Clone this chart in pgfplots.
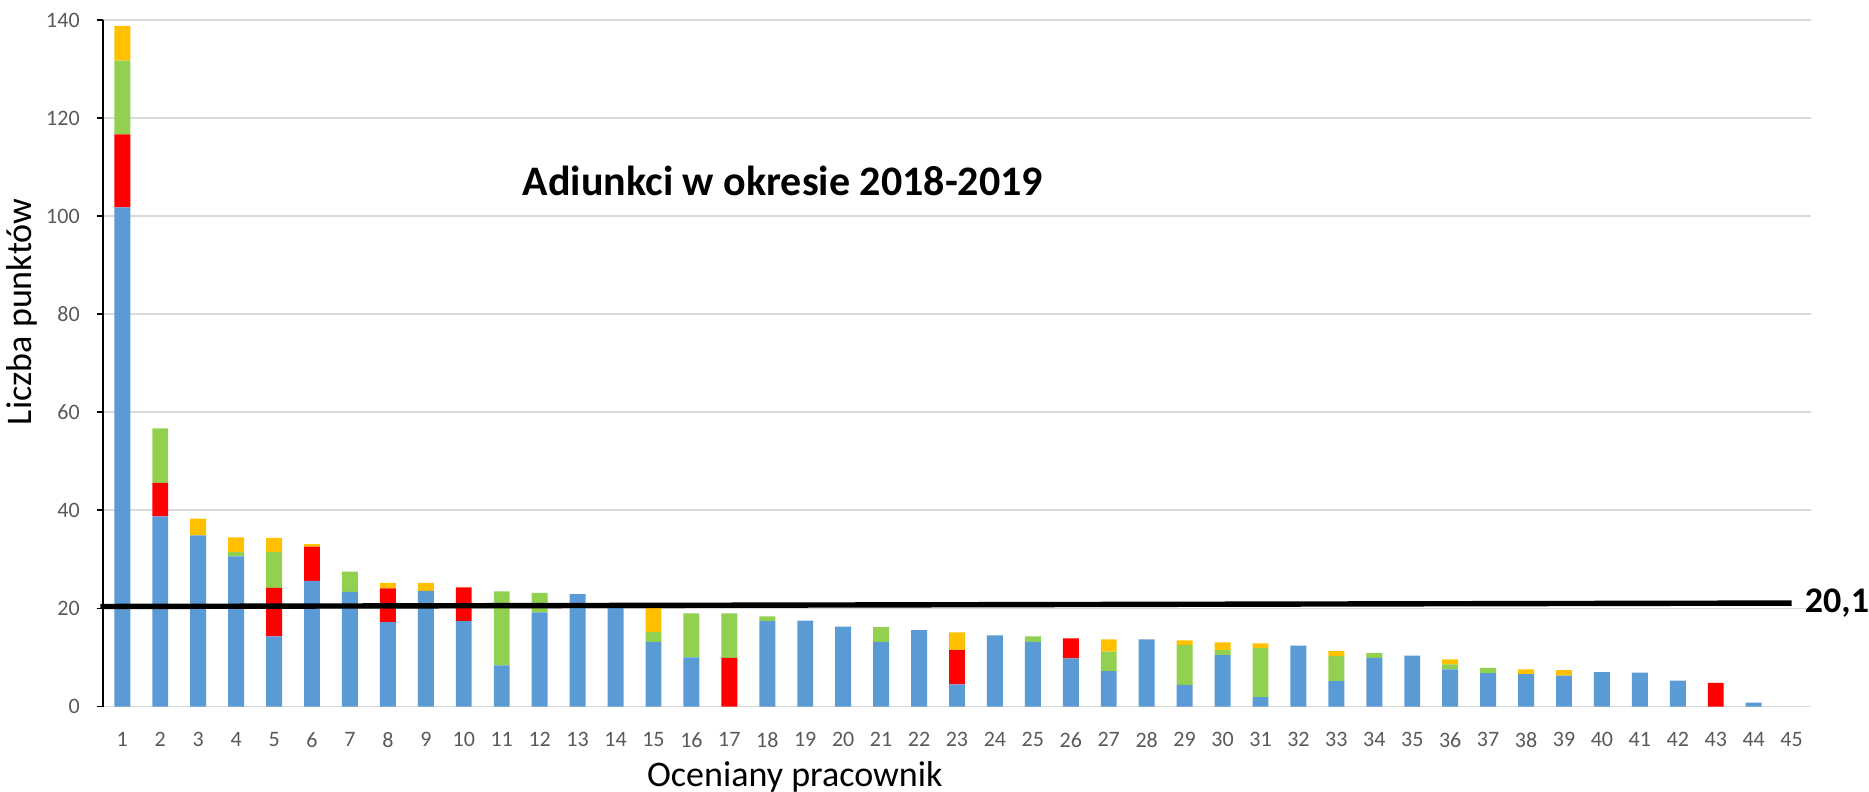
\documentclass[border=0pt]{standalone}
\usepackage{fontspec}
\setmainfont{Carlito}
\usepackage{pgfplots}
\usepackage{pgfplotstable}
\pgfplotsset{compat=1.18}
\definecolor{cblue}{HTML}{5B9BD5}
\definecolor{cred}{HTML}{FF0000}
\definecolor{cgreen}{HTML}{92D050}
\definecolor{cyellow}{HTML}{FFC000}
\definecolor{gridc}{HTML}{D9D9D9}
\definecolor{ticktxt}{HTML}{595959}
\pgfplotstableread{
x blue red green yellow
1 101.8 14.9 15.0 7.1
2 38.8 6.8 11.1 0
3 34.9 0 0 3.4
4 30.6 0 0.9 3.0
5 14.3 9.9 7.3 2.9
6 25.6 7.0 0 0.5
7 23.4 0 4.1 0
8 17.2 6.9 0 1.1
9 23.6 0 0 1.6
10 17.4 6.9 0 0
11 8.4 0 15.1 0
12 19.2 0 4.0 0
13 22.9 0 0 0
14 20.3 0 0 0
15 13.2 0 2.0 5.1
16 10.0 0 9.0 0
17 0 9.9 9.1 0
18 17.4 0 1.0 0
19 17.5 0 0 0
20 16.3 0 0 0
21 13.2 0 3.0 0
22 15.6 0 0 0
23 4.5 7.0 0 3.6
24 14.5 0 0 0
25 13.2 0 1.1 0
26 9.8 4.1 0 0
27 7.2 0 4.0 2.5
28 13.7 0 0 0
29 4.4 0 8.1 1.0
30 10.5 0 1.0 1.6
31 1.9 0 10.0 1.0
32 12.4 0 0 0
33 5.2 0 5.1 1.0
34 9.9 0 1.0 0
35 10.4 0 0 0
36 7.6 0 1.0 1.0
37 6.8 0 1.1 0
38 6.6 0 0 1.0
39 6.3 0 0 1.1
40 7.0 0 0 0
41 6.9 0 0 0
42 5.3 0 0 0
43 0 4.8 0 0
44 0.8 0 0 0
45 0 0 0 0
}\data
\begin{document}
\begin{tikzpicture}
\begin{axis}[
  scale only axis,
  width=853pt, height=343pt,
  xmin=0.5, xmax=45.5, ymin=0, ymax=140,
  ybar stacked, bar width=0.42,
  xtick={1,...,45}, ytick={0,20,...,140},
  axis x line*=bottom,
  axis y line*=left,
  x axis line style={draw=none},
  y axis line style={black, line width=0.9pt},
  ymajorgrids, grid style={gridc, line width=0.9pt},
  major tick length=3.3pt,
  xtick style={draw=none},
  ytick style={black, line width=0.9pt},
  tick align=outside,
  tick label style={font=\fontsize{11}{13}\selectfont, text=ticktxt},
  /pgf/number format/assume math mode=true,
  yticklabel style={xshift=-5pt},
  xticklabel style={yshift=-6pt},
  clip=false,
  ylabel={Liczba punktów},
  ylabel style={at={(axis description cs:-0.0476,0.575)}, anchor=center, font=\fontsize{18}{21}\selectfont},
]
\addplot[fill=cblue, draw=none] table[x=x, y=blue] {\data};
\addplot[fill=cred, draw=none] table[x=x, y=red] {\data};
\addplot[fill=cgreen, draw=none] table[x=x, y=green] {\data};
\addplot[fill=cyellow, draw=none] table[x=x, y=yellow] {\data};
\end{axis}
\begin{axis}[
  scale only axis,
  width=853pt, height=343pt,
  xmin=0.5, xmax=45.5, ymin=0, ymax=140,
  axis lines=none, clip=false,
]
\path (axis description cs:0,1) -- ([yshift=10pt]axis description cs:0,1);
\addplot[black, line width=2.7pt, no markers] coordinates {(0.42,20.4) (45.0,21.1)};
\node[anchor=west, font=\bfseries\fontsize{18}{21}\selectfont, inner sep=0pt] at (axis cs:45.34,21.1) {20,1};
\node[font=\bfseries\fontsize{21}{25}\selectfont] at (axis description cs:0.398,0.766) {Adiunkci w okresie 2018-2019};
\node[font=\fontsize{18}{21}\selectfont, inner sep=0pt] at (axis description cs:0.405,-0.102) {Oceniany pracownik};
\end{axis}
\end{tikzpicture}
\end{document}
